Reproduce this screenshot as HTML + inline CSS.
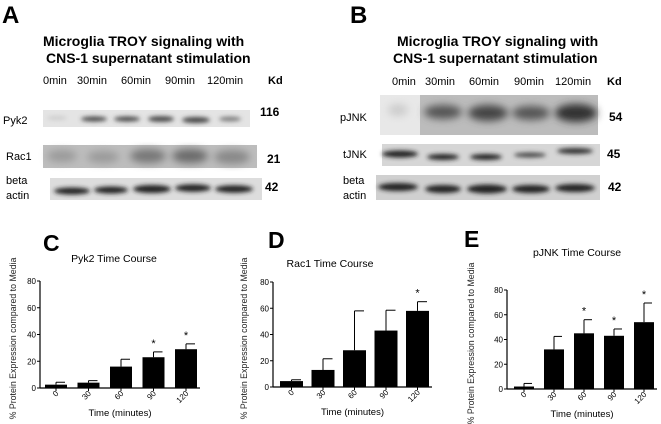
<!DOCTYPE html>
<html><head><meta charset="utf-8"><style>
body{margin:0;background:#fff;}
svg{display:block;font-family:"Liberation Sans",Arial,sans-serif;}
</style></head><body>
<svg id="fig" width="661" height="424" viewBox="0 0 661 424">
<defs>
<filter id="bl" x="-50%" y="-100%" width="200%" height="300%"><feGaussianBlur stdDeviation="2.2"/></filter>
<filter id="bl2" x="-20%" y="-50%" width="140%" height="200%"><feGaussianBlur stdDeviation="4"/></filter>
</defs>
<g>
<text x="2" y="23" font-size="24" font-weight="bold">A</text>
<text x="43" y="46" font-size="14" font-weight="bold">Microglia TROY signaling with</text>
<text x="46" y="63" font-size="14" font-weight="bold">CNS-1 supernatant stimulation</text>
<g font-size="11">
<text x="43" y="84">0min</text><text x="77" y="84">30min</text><text x="121" y="84">60min</text><text x="165" y="84">90min</text><text x="207" y="84">120min</text>
<text x="268" y="84" font-weight="bold">Kd</text></g>
<rect x="43" y="110" width="207" height="17" fill="#e4e4e4"/>
<g fill="#444" filter="url(#bl)"><ellipse cx="57" cy="118" rx="10" ry="2" fill="#ccc"/><ellipse cx="94" cy="119" rx="13" ry="2.5"/><ellipse cx="127" cy="119" rx="13" ry="2.5"/><ellipse cx="161" cy="119" rx="13" ry="2.8"/><ellipse cx="196" cy="120" rx="14" ry="3"/><ellipse cx="230" cy="119" rx="11" ry="2.3" fill="#777"/></g>
<text x="3" y="124" font-size="11">Pyk2</text>
<text x="260" y="116" font-size="12" font-weight="bold">116</text>
<rect x="43" y="145" width="214" height="23" fill="#bdbdbd"/>
<g fill="#777" filter="url(#bl2)"><ellipse cx="62" cy="156" rx="15" ry="6" fill="#9a9a9a"/><ellipse cx="103" cy="157" rx="16" ry="6" fill="#9a9a9a"/><ellipse cx="148" cy="156" rx="18" ry="7"/><ellipse cx="190" cy="156" rx="18" ry="7" fill="#6a6a6a"/><ellipse cx="232" cy="157" rx="18" ry="7" fill="#888"/></g>
<text x="6" y="160" font-size="11">Rac1</text>
<text x="267" y="163" font-size="12" font-weight="bold">21</text>
<rect x="50" y="178" width="212" height="22" fill="#ddd"/>
<g fill="#222" filter="url(#bl)"><ellipse cx="72" cy="191" rx="18" ry="3.5"/><ellipse cx="111" cy="190" rx="17" ry="3.5"/><ellipse cx="152" cy="189" rx="19" ry="4"/><ellipse cx="193" cy="188" rx="18" ry="3.8"/><ellipse cx="234" cy="189" rx="19" ry="3.8"/></g>
<text x="6" y="184" font-size="11">beta</text><text x="6" y="199" font-size="11">actin</text>
<text x="265" y="191" font-size="12" font-weight="bold">42</text>
</g>
<g>
<text x="350" y="23" font-size="24" font-weight="bold">B</text>
<text x="397" y="46" font-size="14" font-weight="bold">Microglia TROY signaling with</text>
<text x="393" y="63" font-size="14" font-weight="bold">CNS-1 supernatant stimulation</text>
<g font-size="11"><text x="392" y="85">0min</text><text x="425" y="85">30min</text><text x="469" y="85">60min</text><text x="514" y="85">90min</text><text x="555" y="85">120min</text><text x="607" y="85" font-weight="bold">Kd</text></g>
<rect x="380" y="95" width="218" height="40" fill="#bcbcbc"/>
<rect x="380" y="95" width="40" height="40" fill="#e8e8e8"/>
<g filter="url(#bl2)"><ellipse cx="398" cy="110" rx="10" ry="6" fill="#ccc"/><ellipse cx="443" cy="112" rx="19" ry="7" fill="#555"/><ellipse cx="488" cy="113" rx="20" ry="8" fill="#444"/><ellipse cx="531" cy="113" rx="19" ry="7" fill="#555"/><ellipse cx="576" cy="113" rx="21" ry="9" fill="#333"/></g>
<text x="340" y="121" font-size="11">pJNK</text><text x="609" y="121" font-size="12" font-weight="bold">54</text>
<rect x="382" y="144" width="218" height="22" fill="#d6d6d6"/>
<g filter="url(#bl)" fill="#222"><ellipse cx="400" cy="154" rx="18" ry="3.5"/><ellipse cx="443" cy="157" rx="16" ry="3"/><ellipse cx="486" cy="157" rx="16" ry="3"/><ellipse cx="530" cy="155" rx="16" ry="2.5" fill="#444"/><ellipse cx="575" cy="151" rx="18" ry="3" fill="#333"/></g>
<text x="343" y="158" font-size="11">tJNK</text><text x="607" y="158" font-size="12" font-weight="bold">45</text>
<rect x="376" y="175" width="224" height="25" fill="#d0d0d0"/>
<g filter="url(#bl)" fill="#222"><ellipse cx="398" cy="187" rx="20" ry="4"/><ellipse cx="443" cy="189" rx="18" ry="4"/><ellipse cx="487" cy="189" rx="20" ry="4.5"/><ellipse cx="531" cy="189" rx="19" ry="4"/><ellipse cx="575" cy="188" rx="20" ry="4"/></g>
<text x="343" y="184" font-size="11">beta</text><text x="343" y="199" font-size="11">actin</text>
<text x="608" y="191" font-size="12" font-weight="bold">42</text>
</g>
<g id="charts"></g>
</svg>
<script>
const categories = ["0","30","60","90","120"];
const yTicks = [0,20,40,60,80];
const pyk2Means = [2.5,4,16,23,29];
const pyk2ErrTop = [4.3,5.5,21.5,27,33];
const pyk2Stars = [false,false,false,true,true];
const rac1Means = [4.5,13,28,43,58];
const rac1ErrTop = [5.5,21.5,58,58.5,65];
const rac1Stars = [false,false,false,false,true];
const pjnkMeans = [2,32,45,43,54];
const pjnkErrTop = [4.5,42.5,56,48.5,69.5];
const pjnkStars = [false,false,true,true,true];

const NS="http://www.w3.org/2000/svg";
function mk(tag,attrs,parent,txt){const e=document.createElementNS(NS,tag);for(const k in attrs)e.setAttribute(k,attrs[k]);if(txt!=null)e.textContent=txt;parent.appendChild(e);return e;}
const root=document.getElementById('charts');
function chart(cfg,means,errs,stars){
  const g=mk('g',{},root);
  
  
  const y=v=>cfg.y0-(v/80)*(cfg.y0-cfg.y80);
  const x=i=>cfg.ax+cfg.pad+i*cfg.slot;
  const L=mk('text',{x:cfg.letterX,y:cfg.letterY,'font-size':23,'font-weight':'bold'},g,cfg.letter);
  
  
  const t=mk('text',{x:cfg.titleX,y:cfg.titleY,'font-size':10.5,'text-anchor':'middle'},g,cfg.title);
  
  
  const yl=mk('text',{transform:`translate(${cfg.ylx},${(cfg.y0+cfg.y80)/2+4}) rotate(-90)`,'font-size':8.8,'text-anchor':'middle',fill:'#222'},g,'% Protein Expression compared to Media');
  
  
  mk('line',{x1:cfg.ax,y1:cfg.y80,x2:cfg.ax,y2:cfg.y0,stroke:'#000','stroke-width':1.2},g);
  mk('line',{x1:cfg.ax,y1:cfg.y0,x2:cfg.axEnd,y2:cfg.y0,stroke:'#000','stroke-width':1.2},g);
  yTicks.forEach(v=>{
    mk('line',{x1:cfg.ax-3,y1:y(v),x2:cfg.ax,y2:y(v),stroke:'#000'},g);
    const tl=mk('text',{x:cfg.ax-4,y:y(v)+3,'font-size':8,'text-anchor':'end'},g,String(v));
    
    
  });
  categories.forEach((c,i)=>{
    const bx=x(i), cx=bx+cfg.bw/2;
    mk('line',{x1:cx,y1:y(means[i]),x2:cx,y2:y(errs[i]),stroke:'#000','stroke-width':1},g);
    mk('line',{x1:cx,y1:y(errs[i]),x2:cx+cfg.bw/2-2,y2:y(errs[i]),stroke:'#000','stroke-width':1},g);
    const b=mk('rect',{x:bx,y:y(means[i]),width:cfg.bw,height:cfg.y0-y(means[i]),fill:'#000'},g);
    
    
    mk('line',{x1:cx,y1:cfg.y0,x2:cx,y2:cfg.y0+3,stroke:'#000'},g);
    const tl=mk('text',{transform:`translate(${cx+3},${cfg.y0+6}) rotate(-45)`,'font-size':8,'text-anchor':'end'},g,c);
    
    
    if(stars[i]){const s=mk('text',{x:cx,y:y(errs[i])-5,'font-size':11,'text-anchor':'middle'},g,'*');
      
      }
  });
  const xl=mk('text',{x:(cfg.ax+cfg.axEnd)/2,y:cfg.y0+28,'font-size':9.5,'text-anchor':'middle'},g,'Time (minutes)');
  
  
}
chart({name:'pyk2-chart',letter:'C',letterX:43,letterY:251,title:'Pyk2 Time Course',titleX:114,titleY:262,ylx:16,ax:40,axEnd:200,y0:388,y80:281,pad:5,slot:32.5,bw:22},pyk2Means,pyk2ErrTop,pyk2Stars);
chart({name:'rac1-chart',letter:'D',letterX:268,letterY:248,title:'Rac1 Time Course',titleX:330,titleY:267,ylx:247,ax:273,axEnd:432,y0:387,y80:282,pad:7,slot:31.5,bw:23},rac1Means,rac1ErrTop,rac1Stars);
chart({name:'pjnk-chart',letter:'E',letterX:464,letterY:247,title:'pJNK Time Course',titleX:577,titleY:256,ylx:474,ax:507,axEnd:657,y0:389,y80:290,pad:7,slot:30,bw:20},pjnkMeans,pjnkErrTop,pjnkStars);
</script>
</body></html>
